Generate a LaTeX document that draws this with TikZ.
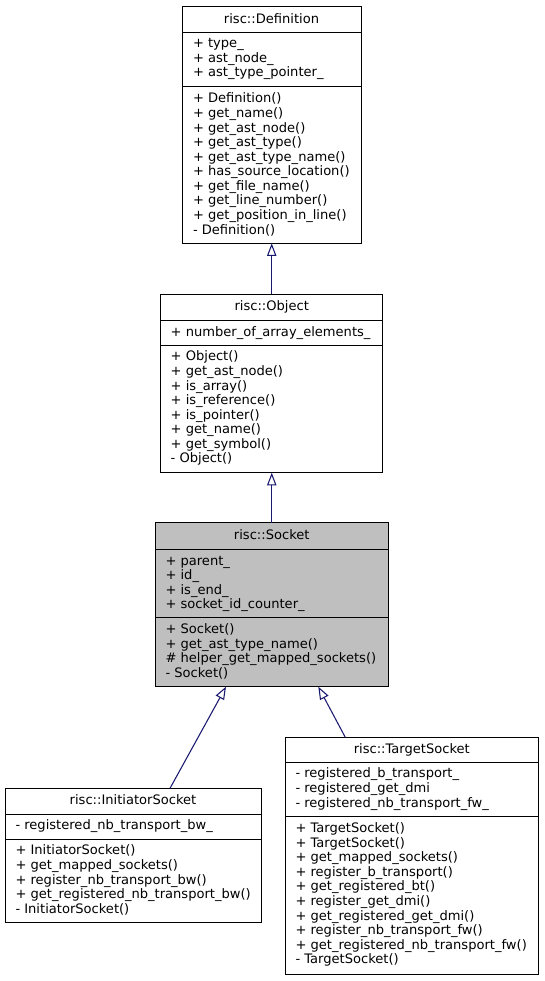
\documentclass[tikz,border=0pt]{standalone}
\usepackage{fontspec}
\setmainfont{DejaVu Sans}
\usetikzlibrary{arrows.meta,calc}
\def\upx{0.75pt}
\definecolor{edgeblue}{RGB}{25,25,112}
\definecolor{sockgray}{RGB}{191,191,191}
\tikzset{
  classbox/.style={draw=black, line width=0.75pt, inner sep=0pt, outer sep=0pt, anchor=north west},
  divider/.style={draw=black, line width=0.75pt},
  txt/.style={inner sep=0pt, outer sep=0pt, font=\fontsize{9.8}{10.92}\selectfont, align=left, anchor=base west},
  ttl/.style={inner sep=0pt, outer sep=0pt, font=\fontsize{9.8}{10.92}\selectfont, anchor=base},
  inh/.style={draw=edgeblue, line width=0.8pt, -{Triangle[open, length=9.5pt, width=7pt, fill=white]}}
}
\begin{document}
\begin{tikzpicture}[x=0.75pt,y=-0.75pt]
\useasboundingbox (0,0) rectangle (544,981);

% risc::Definition
\node[classbox, fill=white, minimum width=179*\upx, minimum height=236.6*\upx] (def) at (182,6.7) {};
\draw[divider] (182,32.3) -- (361,32.3);
\draw[divider] (182,87) -- (361,87);
\node[ttl] (defT) at (271.5,23.3) {risc::Definition};
\node[txt] (defA) at (193,77.0) {+ type\_\\+ ast\_node\_\\+ ast\_type\_pointer\_};
\node[txt] (defM) at (193,234.0) {+ Definition()\\+ get\_name()\\+ get\_ast\_node()\\+ get\_ast\_type()\\+ get\_ast\_type\_name()\\+ has\_source\_location()\\+ get\_file\_name()\\+ get\_line\_number()\\+ get\_position\_in\_line()\\- Definition()};

% risc::Object
\node[classbox, fill=white, minimum width=222*\upx, minimum height=178.7*\upx] (obj) at (160.7,294) {};
\draw[divider] (160.7,320.3) -- (382.7,320.3);
\draw[divider] (160.7,345) -- (382.7,345);
\node[ttl] (objT) at (271.7,310.6) {risc::Object};
\node[txt] (objA) at (170.7,336) {+ number\_of\_array\_elements\_};
\node[txt] (objM) at (170.7,462.9) {+ Object()\\+ get\_ast\_node()\\+ is\_array()\\+ is\_reference()\\+ is\_pointer()\\+ get\_name()\\+ get\_symbol()\\- Object()};

% risc::Socket
\node[classbox, fill=sockgray, minimum width=233.5*\upx, minimum height=164*\upx] (sock) at (155,522.7) {};
\draw[divider] (155,549) -- (388.5,549);
\draw[divider] (155,617.7) -- (388.5,617.7);
\node[ttl] (sockT) at (271.75,539.3) {risc::Socket};
\node[txt] (sockA) at (165.5,608.7) {+ parent\_\\+ id\_\\+ is\_end\_\\+ socket\_id\_counter\_};
\node[txt] (sockM) at (165.5,677.4) {+ Socket()\\+ get\_ast\_type\_name()\\\# helper\_get\_mapped\_sockets()\\- Socket()};

% risc::InitiatorSocket
\node[classbox, fill=white, minimum width=256*\upx, minimum height=134.4*\upx] (init) at (5,788.3) {};
\draw[divider] (5,814) -- (261,814);
\draw[divider] (5,839) -- (261,839);
\node[ttl] (initT) at (133,804.9) {risc::InitiatorSocket};
\node[txt] (initA) at (15.5,829.8) {- registered\_nb\_transport\_bw\_};
\node[txt] (initM) at (15.5,913.2) {+ InitiatorSocket()\\+ get\_mapped\_sockets()\\+ register\_nb\_transport\_bw()\\+ get\_registered\_nb\_transport\_bw()\\- InitiatorSocket()};

% risc::TargetSocket
\node[classbox, fill=white, minimum width=253.6*\upx, minimum height=236.7*\upx] (tgt) at (285,737.3) {};
\draw[divider] (285,762.3) -- (538.6,762.3);
\draw[divider] (285,816.7) -- (538.6,816.7);
\node[ttl] (tgtT) at (411.8,753.9) {risc::TargetSocket};
\node[txt] (tgtA) at (295.5,807.1) {- registered\_b\_transport\_\\- registered\_get\_dmi\\- registered\_nb\_transport\_fw\_};
\node[txt] (tgtM) at (295.5,963.7) {+ TargetSocket()\\+ TargetSocket()\\+ get\_mapped\_sockets()\\+ register\_b\_transport()\\+ get\_registered\_bt()\\+ register\_get\_dmi()\\+ get\_registered\_get\_dmi()\\+ register\_nb\_transport\_fw()\\+ get\_registered\_nb\_transport\_fw()\\- TargetSocket()};

% inheritance connectors
\draw[inh] (obj.north) -- (obj.north |- def.south);
\draw[inh] (sock.north) -- (sock.north |- obj.south);
\draw[inh] ($(init.north west)+(165,0)$) -- ($(sock.south west)+(71,0)$);
\draw[inh] ($(tgt.north west)+(60.3,0)$) -- ($(sock.south west)+(163.3,0)$);
\end{tikzpicture}
\end{document}
